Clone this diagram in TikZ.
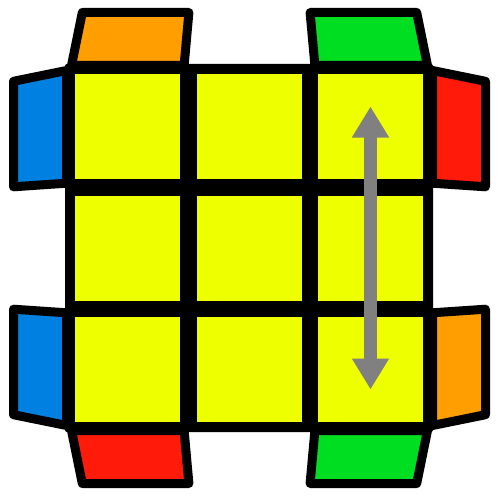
\documentclass[tikz,border=0pt]{standalone}
\usepackage{tikz}
\usetikzlibrary{
  arrows.meta,
  calc,
  positioning
}
\definecolor{faceY}{HTML}{EEFF00}
\definecolor{sideO}{HTML}{FF9E00}
\definecolor{sideG}{HTML}{00DE22}
\definecolor{sideB}{HTML}{0080E0}
\definecolor{sideR}{HTML}{FF1A0A}
\definecolor{arrowgrey}{HTML}{808080}

\begin{document}
\begin{tikzpicture}[x=1pt,y=-1pt,>={Triangle[length=31pt,width=35pt]}]
  \tikzset{
    sticker/.style={draw=black,line width=9pt,line join=round},
    cell/.style={fill=faceY,minimum size=105pt,inner sep=0pt,outer sep=0pt},
    swaparrow/.style={draw=arrowgrey,fill=arrowgrey,line width=13pt}
  }
  \useasboundingbox (0,0) rectangle (499,500);
  % top face
  \fill[black,rounded corners=2pt] (65,64) rectangle (433,432);
  \foreach \r/\y in {1/126.5,2/248,3/369.5}{
    \foreach \c/\x in {1/127.5,2/249,3/370.5}{
      \node[cell] (c\r\c) at (\x,\y) {};
    }
  }
  % side stickers, top and bottom
  \draw[sticker,fill=sideO] (71.5,65.5) -- (82.3,12.5) -- (188.9,12.5) -- (184.1,65.5) -- cycle;
  \draw[sticker,fill=sideG] (427.5,65.5) -- (416.7,12.5) -- (310.1,12.5) -- (314.9,65.5) -- cycle;
  \draw[sticker,fill=sideR] (71.5,430.5) -- (82.3,483.5) -- (188.9,483.5) -- (184.1,430.5) -- cycle;
  \draw[sticker,fill=sideG] (427.5,430.5) -- (416.7,483.5) -- (310.1,483.5) -- (314.9,430.5) -- cycle;
  % side stickers, left and right
  \draw[sticker,fill=sideB] (13.5,81.3) -- (66.5,70.5) -- (66.5,183.2) -- (13.5,186.8) -- cycle;
  \draw[sticker,fill=sideR] (485.5,81.3) -- (432.5,70.5) -- (432.5,183.2) -- (485.5,186.8) -- cycle;
  \draw[sticker,fill=sideB] (13.5,414.7) -- (66.5,425.5) -- (66.5,312.8) -- (13.5,309.2) -- cycle;
  \draw[sticker,fill=sideO] (485.5,414.7) -- (432.5,425.5) -- (432.5,312.8) -- (485.5,309.2) -- cycle;
  % swap
  \draw[swaparrow,<->] ([yshift=20pt]c13.center) -- ([yshift=-20pt]c33.center);
\end{tikzpicture}
\end{document}
